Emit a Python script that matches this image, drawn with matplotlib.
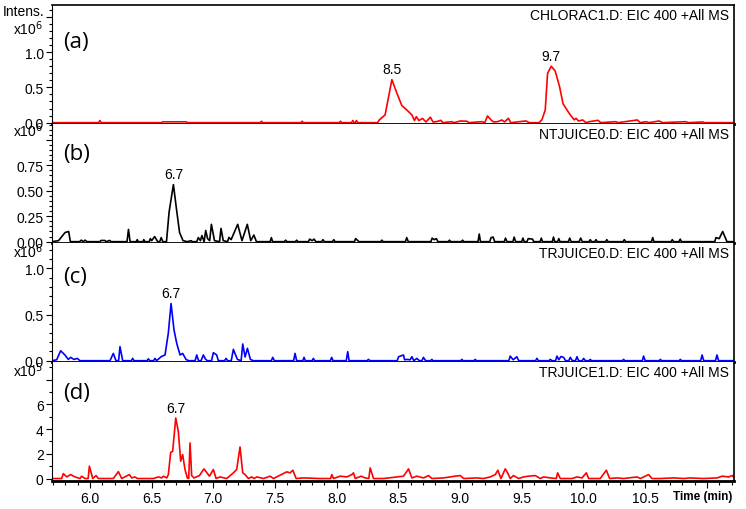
import numpy as np
import matplotlib
matplotlib.use('Agg')
import matplotlib.pyplot as plt
from matplotlib.ticker import MultipleLocator

plt.rcParams['font.family'] = ['Liberation Sans', 'DejaVu Sans']

# (time [min], intensity)
# panel a, x10^6
pts_a = [(5.69, 0), (6.07, 0), (6.08, 0.03), (6.09, 0), (6.58, 0), (6.59, 0.012), (6.78, 0.012), (6.79, 0),
         (7.38, 0), (7.39, 0.02), (7.40, 0), (7.71, 0), (7.72, 0.02), (7.73, 0), (8.02, 0), (8.03, 0.02),
         (8.04, 0), (8.12, 0), (8.13, 0.03), (8.14, 0), (8.15, 0), (8.16, 0.03), (8.17, 0), (8.33, 0),
         (8.346, 0.04), (8.392, 0.11), (8.447, 0.61), (8.487, 0.42), (8.528, 0.24), (8.568, 0.18),
         (8.609, 0.11), (8.63, 0.03), (8.645, 0.085), (8.666, 0.03), (8.695, 0.06), (8.723, 0.01),
         (8.759, 0.077), (8.78, 0.01), (8.808, 0.014), (8.844, 0.033), (8.86, 0), (8.932, 0.014), (8.95, 0),
         (9.003, 0.024), (9.056, 0.02), (9.07, 0), (9.18, 0.014), (9.20, 0), (9.222, 0.095), (9.251, 0.038),
         (9.27, 0.01), (9.304, 0.014), (9.339, 0.038), (9.36, 0.01), (9.392, 0.062), (9.41, 0),
         (9.481, 0.014), (9.534, 0.024), (9.56, 0), (9.64, 0), (9.663, 0.04), (9.690, 0.18), (9.709, 0.70),
         (9.739, 0.80), (9.771, 0.73), (9.806, 0.51), (9.834, 0.27), (9.866, 0.18), (9.893, 0.11),
         (9.925, 0.04), (9.94, 0.062), (9.959, 0.024), (9.994, 0.038), (10.02, 0), (10.048, 0.014),
         (10.118, 0.033), (10.14, 0), (10.26, 0.014), (10.28, 0), (10.437, 0.038), (10.46, 0),
         (10.508, 0.014), (10.53, 0), (10.614, 0.024), (10.64, 0), (10.827, 0.014), (10.85, 0),
         (10.968, 0.01), (10.98, 0), (11.22, 0)]

# panel b, x10^6
pts_b = [(5.69, 0), (5.745, 0.01), (5.798, 0.09), (5.827, 0.10), (5.841, 0), (5.915, 0), (5.93, 0.015),
         (5.945, 0), (5.96, 0.015), (5.975, 0), (6.08, 0), (6.09, 0.012), (6.12, 0.012), (6.13, 0),
         (6.16, 0.012), (6.17, 0), (6.30, 0), (6.312, 0.12), (6.325, 0), (6.375, 0), (6.383, 0.02),
         (6.39, 0), (6.43, 0), (6.436, 0.02), (6.445, 0), (6.48, 0), (6.489, 0.03), (6.50, 0.01),
         (6.524, 0.05), (6.549, 0), (6.565, 0), (6.577, 0.04), (6.59, 0), (6.62, 0), (6.641, 0.29),
         (6.676, 0.56), (6.701, 0.32), (6.726, 0.09), (6.754, 0.01), (6.79, 0), (6.818, 0.01), (6.83, 0),
         (6.865, 0), (6.878, 0.04), (6.895, 0.01), (6.907, 0.06), (6.925, 0), (6.938, 0.11), (6.953, 0.03),
         (6.970, 0.01), (6.984, 0.17), (7.009, 0.01), (7.05, 0), (7.062, 0.13), (7.080, 0.01), (7.115, 0),
         (7.126, 0.042), (7.144, 0.02), (7.197, 0.17), (7.232, 0.01), (7.275, 0.17), (7.303, 0.01),
         (7.328, 0.065), (7.349, 0), (7.46, 0), (7.470, 0.04), (7.48, 0), (7.575, 0), (7.586, 0.015),
         (7.595, 0), (7.665, 0), (7.675, 0.015), (7.685, 0), (7.77, 0), (7.781, 0.025), (7.80, 0.01),
         (7.817, 0.025), (7.83, 0), (7.878, 0), (7.888, 0.02), (7.90, 0), (7.966, 0), (7.976, 0.02),
         (7.986, 0), (8.143, 0), (8.153, 0.03), (8.171, 0.01), (8.18, 0), (8.356, 0), (8.366, 0.015),
         (8.376, 0), (8.557, 0), (8.567, 0.04), (8.58, 0), (8.763, 0), (8.773, 0.035), (8.79, 0.02),
         (8.808, 0.03), (8.82, 0), (8.904, 0), (8.914, 0.015), (8.924, 0), (9.01, 0), (9.020, 0.015),
         (9.03, 0), (9.145, 0), (9.155, 0.075), (9.165, 0), (9.24, 0), (9.251, 0.04), (9.268, 0.045),
         (9.28, 0), (9.358, 0), (9.368, 0.035), (9.38, 0), (9.428, 0), (9.438, 0.045), (9.45, 0),
         (9.499, 0), (9.509, 0.035), (9.52, 0), (9.542, 0), (9.552, 0.03), (9.587, 0.025), (9.597, 0),
         (9.648, 0), (9.658, 0.035), (9.668, 0), (9.747, 0), (9.757, 0.045), (9.767, 0), (9.79, 0),
         (9.80, 0.03), (9.81, 0), (9.878, 0), (9.888, 0.035), (9.90, 0), (9.965, 0), (9.977, 0.035),
         (9.99, 0), (10.045, 0), (10.055, 0.02), (10.065, 0), (10.091, 0), (10.101, 0.02), (10.111, 0),
         (10.179, 0), (10.189, 0.02), (10.199, 0), (10.321, 0), (10.331, 0.02), (10.341, 0), (10.551, 0),
         (10.561, 0.04), (10.571, 0), (10.71, 0), (10.72, 0.02), (10.73, 0), (10.774, 0), (10.784, 0.025),
         (10.794, 0), (11.064, 0), (11.074, 0.04), (11.10, 0.03), (11.128, 0.10), (11.163, 0), (11.22, 0)]

# panel c, x10^6
pts_c = [(5.69, 0), (5.73, 0.01), (5.762, 0.108), (5.797, 0.062), (5.824, 0.014), (5.843, 0.036),
         (5.870, 0.014), (5.897, 0.025), (5.919, 0), (6.162, 0), (6.189, 0.079), (6.211, 0), (6.232, 0),
         (6.243, 0.152), (6.265, 0), (6.335, 0), (6.346, 0.025), (6.357, 0), (6.462, 0), (6.473, 0.02),
         (6.485, 0), (6.515, 0), (6.527, 0.025), (6.54, 0), (6.576, 0.043), (6.608, 0.062), (6.635, 0.30),
         (6.657, 0.62), (6.681, 0.333), (6.703, 0.188), (6.730, 0.062), (6.751, 0.079), (6.778, 0.014),
         (6.80, 0), (6.852, 0), (6.865, 0.062), (6.88, 0), (6.90, 0), (6.919, 0.062), (6.935, 0.02),
         (6.95, 0), (6.985, 0), (7.000, 0.087), (7.027, 0.062), (7.04, 0), (7.09, 0), (7.103, 0.025),
         (7.115, 0), (7.145, 0), (7.162, 0.123), (7.195, 0.014), (7.225, 0), (7.238, 0.181), (7.257, 0.04),
         (7.276, 0.134), (7.300, 0.014), (7.324, 0), (7.47, 0), (7.481, 0.036), (7.495, 0), (7.65, 0),
         (7.662, 0.079), (7.675, 0), (7.725, 0), (7.735, 0.036), (7.745, 0), (7.80, 0), (7.811, 0.025),
         (7.82, 0), (7.948, 0), (7.959, 0.036), (7.97, 0), (8.077, 0), (8.089, 0.098), (8.10, 0),
         (8.245, 0), (8.257, 0.014), (8.27, 0), (8.49, 0), (8.501, 0.043), (8.541, 0.062), (8.55, 0.01),
         (8.568, 0.014), (8.595, 0.01), (8.609, 0.043), (8.625, 0), (8.649, 0.025), (8.67, 0), (8.69, 0),
         (8.703, 0.036), (8.72, 0), (8.76, 0), (8.771, 0.014), (8.78, 0), (9.004, 0), (9.014, 0.014),
         (9.024, 0), (9.112, 0), (9.122, 0.014), (9.132, 0), (9.395, 0), (9.406, 0.05), (9.43, 0.01),
         (9.460, 0.043), (9.475, 0), (9.612, 0), (9.623, 0.025), (9.634, 0), (9.72, 0), (9.731, 0.014),
         (9.745, 0), (9.774, 0), (9.785, 0.05), (9.80, 0.01), (9.817, 0.045), (9.839, 0.036), (9.855, 0),
         (9.88, 0), (9.893, 0.036), (9.91, 0), (9.935, 0), (9.947, 0.043), (9.96, 0), (9.99, 0),
         (10.001, 0.025), (10.015, 0), (10.045, 0), (10.055, 0.014), (10.065, 0), (10.315, 0),
         (10.325, 0.014), (10.335, 0), (10.477, 0), (10.487, 0.05), (10.50, 0), (10.613, 0),
         (10.623, 0.014), (10.633, 0), (10.775, 0), (10.785, 0.014), (10.795, 0), (10.95, 0),
         (10.961, 0.062), (10.975, 0), (11.07, 0), (11.082, 0.062), (11.095, 0), (11.22, 0)]

# panel d, x10^5
pts_d = [(5.69, 0), (5.77, 0), (5.784, 0.40), (5.811, 0.13), (5.843, 0.32), (5.878, 0.13), (5.919, 0),
         (5.932, 0.19), (5.959, 0), (5.985, 0), (5.995, 1.0), (6.022, 0), (6.049, 0.24), (6.067, 0),
         (6.189, 0), (6.230, 0.56), (6.257, 0), (6.319, 0.32), (6.338, 0.05), (6.365, 0.13), (6.384, 0),
         (6.514, 0), (6.554, 0.13), (6.581, 0.05), (6.595, 0.19), (6.622, 0.05), (6.635, 0.32),
         (6.654, 2.12), (6.670, 2.2), (6.695, 4.9), (6.716, 3.8), (6.735, 1.4), (6.751, 1.94),
         (6.770, 0.73), (6.789, 0.05), (6.800, 0), (6.811, 2.88), (6.824, 0.24), (6.843, 0.05),
         (6.887, 0.24), (6.924, 0.78), (6.968, 0.19), (7.000, 0.73), (7.022, 0), (7.054, 0.13), (7.108, 0),
         (7.162, 0.46), (7.189, 0.73), (7.216, 2.55), (7.238, 0.46), (7.257, 0.32), (7.284, 0),
         (7.311, 0.13), (7.33, 0), (7.352, 0.13), (7.406, 0), (7.460, 0.19), (7.487, 0), (7.595, 0.54),
         (7.622, 0.46), (7.644, 0.67), (7.671, 0), (7.730, 0.05), (7.865, 0), (7.95, 0), (7.960, 0.32),
         (7.973, 0), (8.028, 0.19), (8.082, 0.13), (8.122, 0.32), (8.136, 0.46), (8.15, 0), (8.198, 0.19),
         (8.230, 0.05), (8.26, 0), (8.271, 0.86), (8.298, 0), (8.379, 0), (8.541, 0.19), (8.582, 0.78),
         (8.609, 0.05), (8.649, 0.19), (8.703, 0.05), (8.744, 0.24), (8.771, 0), (8.866, 0.05),
         (8.920, 0.13), (8.960, 0.19), (9.001, 0.24), (9.028, 0), (9.136, 0.05), (9.190, 0),
         (9.244, 0.13), (9.285, 0.32), (9.306, 0.67), (9.331, 0), (9.366, 0.78), (9.385, 0.46),
         (9.406, 0), (9.433, 0.24), (9.474, 0), (9.515, 0.13), (9.555, 0.19), (9.609, 0.24), (9.650, 0),
         (9.677, 0.13), (9.731, 0.05), (9.78, 0), (9.790, 0.46), (9.812, 0), (9.907, 0), (9.947, 0.13),
         (9.988, 0.05), (10.023, 0.46), (10.042, 0), (10.136, 0), (10.185, 0.67), (10.212, 0),
         (10.272, 0.05), (10.326, 0), (10.434, 0.13), (10.461, 0), (10.501, 0.19), (10.528, 0.32),
         (10.555, 0), (10.623, 0), (10.731, 0.05), (10.812, 0), (10.866, 0.05), (10.974, 0),
         (11.083, 0.05), (11.123, 0.19), (11.177, 0.13), (11.204, 0.24), (11.22, 0.1)]

titles = ['CHLORAC1.D: EIC 400 +All MS', 'NTJUICE0.D: EIC 400 +All MS',
          'TRJUICE0.D: EIC 400 +All MS', 'TRJUICE1.D: EIC 400 +All MS']
panel_tags = ['(a)', '(b)', '(c)', '(d)']
colors = ['#ff0000', '#000000', '#0000ff', '#ff0000']
peak_labels = [[(8.447, '8.5'), (9.739, '9.7')], [(6.676, '6.7')], [(6.657, '6.7')], [(6.695, '6.7')]]
ylims = [(-0.019, 1.667), (-0.013, 1.155), (-0.014, 1.275), (-0.2, 9.43)]
yticks = [[0, 0.5, 1.0, 1.5], [0, 0.25, 0.5, 0.75, 1.0], [0, 0.5, 1.0], [0, 2, 4, 6, 8]]
yticklabels = [['0.0', '0.5', '1.0', ''], ['0.00', '0.25', '0.50', '0.75', ''],
               ['0.0', '0.5', '1.0'], ['0', '2', '4', '6', '']]
yminor = [0.1, 0.05, 0.1, 1]
exps = ['6', '6', '6', '5']
exp_y = [29, 131, 252, 371]   # pixel rows of the x10^n labels
tag_y = [0.69, 0.755, 0.72, 0.74]
xticks = [6.0, 6.5, 7.0, 7.5, 8.0, 8.5, 9.0, 9.5, 10.0, 10.5, 11.0]
xticklabels = ['6.0', '6.5', '7.0', '7.5', '8.0', '8.5', '9.0', '9.5', '10.0', '10.5', '']

W, H = 746, 510
fig, axes = plt.subplots(4, 1, sharex=True, figsize=(W / 100, H / 100), dpi=100,
                         gridspec_kw=dict(hspace=0))
fig.subplots_adjust(left=52 / W, right=734 / W, top=1 - 6 / H, bottom=1 - 482 / H)

for i, (ax, pts) in enumerate(zip(axes, [pts_a, pts_b, pts_c, pts_d])):
    t, v = np.array(pts).T
    ax.plot(t, v, color=colors[i], lw=1.2)
    ax.set_xlim(5.692, 11.22)
    ax.set_ylim(*ylims[i])
    ax.set_yticks(yticks[i])
    ax.set_yticklabels(yticklabels[i], fontsize=10)
    ax.yaxis.set_minor_locator(MultipleLocator(yminor[i]))
    ax.tick_params(axis='y', which='major', direction='out', length=4, width=0.8, pad=2)
    ax.tick_params(axis='y', which='minor', direction='out', length=2.5, width=0.8)
    ax.spines['left'].set_linewidth(0.8)
    ax.spines['right'].set_linewidth(1.2)
    ax.spines['top'].set_linewidth(1.2)
    ax.spines['bottom'].set_linewidth(2.0)
    if i > 0:
        ax.spines['top'].set_visible(False)
    ax.text(0.993, 0.975, titles[i], transform=ax.transAxes, ha='right', va='top', fontsize=10)
    ax.text(0.017, tag_y[i], panel_tags[i], transform=ax.transAxes, ha='left', va='center',
            fontsize=16, family=['Open Sans', 'DejaVu Sans'])
    for pt, lab in peak_labels[i]:
        k = np.argmin(np.abs(t - pt))
        ax.annotate(lab, (t[k], v[k]), xytext=(0, 2.5), textcoords='offset points',
                    ha='center', va='bottom', fontsize=10)
    fig.text(43 / W, 1 - exp_y[i] / H, 'x10$^{' + exps[i] + '}$', ha='right', va='center',
             fontsize=10)
    if i < 3:
        ax.tick_params(axis='x', which='both', bottom=False, labelbottom=False)

fig.text(3 / W, 1 - 12 / H, 'Intens.', ha='left', va='center', fontsize=10)

axd = axes[3]
axd.set_xticks(xticks)
axd.set_xticklabels(xticklabels, fontsize=10)
axd.xaxis.set_minor_locator(MultipleLocator(0.1))
axd.tick_params(axis='x', which='major', direction='out', length=5, width=0.8, pad=2)
axd.tick_params(axis='x', which='minor', direction='out', length=3, width=0.8)
fig.text(732 / W, 1 - 497 / H, 'Time (min)', ha='right', va='center', fontsize=8.5,
         fontweight='bold')

plt.savefig('out.png', dpi=100)
